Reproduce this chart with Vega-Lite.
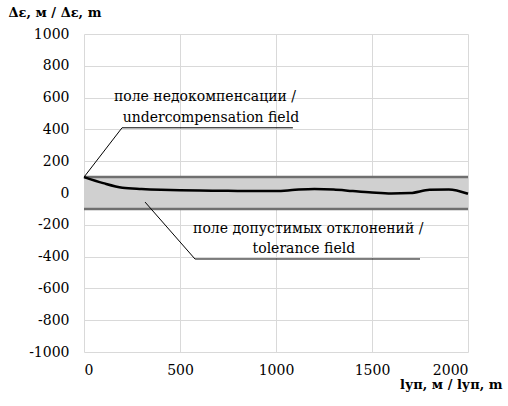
{
  "$schema": "https://vega.github.io/schema/vega-lite/v6.json",
  "width": 384,
  "height": 318,
  "autosize": {"type": "none"},
  "padding": {"left": 84, "top": 34, "right": 40, "bottom": 54},
  "background": "white",
  "config": {
    "view": {"stroke": null},
    "font": "DejaVu Serif",
    "text": {"font": "DejaVu Serif"},
    "axis": {"labelFont": "DejaVu Serif", "titleFont": "DejaVu Serif", "labelColor": "black", "titleColor": "black", "labelOverlap": false}
  },
  "datasets": {
    "curve": [
      {"x": 0, "y": 100}, {"x": 100, "y": 62}, {"x": 200, "y": 33}, {"x": 300, "y": 25},
      {"x": 400, "y": 20}, {"x": 500, "y": 17}, {"x": 600, "y": 15}, {"x": 700, "y": 14},
      {"x": 800, "y": 13}, {"x": 900, "y": 12}, {"x": 1000, "y": 12}, {"x": 1100, "y": 20},
      {"x": 1200, "y": 25}, {"x": 1300, "y": 22}, {"x": 1400, "y": 12}, {"x": 1500, "y": 3},
      {"x": 1600, "y": -3}, {"x": 1700, "y": 0}, {"x": 1800, "y": 20}, {"x": 1900, "y": 22},
      {"x": 2000, "y": -5}
    ],
    "band": [{"x": 0, "x2": 2000, "y": -100, "y2": 100}],
    "edges": [{"x": 0, "x2": 2000, "y": 100}, {"x": 0, "x2": 2000, "y": -100}],
    "leaders": [
      {"x": 0, "y": 100, "x2": 198, "y2": 410},
      {"x": 198, "y": 410, "x2": 1088, "y2": 410},
      {"x": 318, "y": -57, "x2": 578, "y2": -415},
      {"x": 578, "y": -415, "x2": 1750, "y2": -415}
    ],
    "labels": [
      {"x": 630, "y": 579, "t": "поле недокомпенсации /"},
      {"x": 661, "y": 447, "t": "undercompensation field"},
      {"x": 1168, "y": -250, "t": "поле допустимых отклонений /"},
      {"x": 1145, "y": -379, "t": "tolerance field"}
    ]
  },
  "encoding": {
    "x": {"field": "x", "type": "quantitative", "scale": {"domain": [0, 2000], "nice": false},
      "axis": {"values": [0, 500, 1000, 1500, 2000], "grid": true, "gridColor": "#d9d9d9", "domain": false, "ticks": false,
        "labelFontSize": 14, "labelPadding": 11, "labelOverlap": false, "labelExpr": "toString(datum.value)",
        "title": "lуп, м / lуп, m", "titleFontSize": 13, "titleFontWeight": "bold",
        "titleAnchor": "end", "titleAlign": "right", "titleX": 418, "titleY": 36, "titleBaseline": "alphabetic"}},
    "y": {"field": "y", "type": "quantitative", "scale": {"domain": [-1000, 1000], "nice": false},
      "axis": {"values": [-1000, -800, -600, -400, -200, 0, 200, 400, 600, 800, 1000], "grid": true, "gridColor": "#d9d9d9",
        "domain": false, "ticks": false, "labelFontSize": 14, "labelPadding": 15, "labelOverlap": false, "labelSeparation": 0,
        "labelExpr": "toString(datum.value)",
        "title": "Δε, м / Δε, m", "titleFontSize": 13, "titleFontWeight": "bold", "titleAngle": 0,
        "titleAnchor": "start", "titleAlign": "left", "titleX": -76, "titleY": -18, "titleBaseline": "alphabetic"}}
  },
  "layer": [
    {
      "data": {"name": "band"},
      "mark": {"type": "rect", "color": "#d0d0d0"},
      "encoding": {"x2": {"field": "x2"}, "y2": {"field": "y2"}}
    },
    {
      "data": {"name": "edges"},
      "mark": {"type": "rule", "color": "#6f6f6f", "strokeWidth": 2.5},
      "encoding": {"x2": {"field": "x2"}}
    },
    {
      "data": {"name": "leaders"},
      "mark": {"type": "rule", "color": "black", "strokeWidth": 1},
      "encoding": {"x2": {"field": "x2"}, "y2": {"field": "y2"}}
    },
    {
      "data": {"name": "curve"},
      "mark": {"type": "line", "color": "black", "strokeWidth": 2.5, "interpolate": "monotone"},
      "encoding": {}
    },
    {
      "data": {"name": "labels"},
      "mark": {"type": "text", "fontSize": 14, "align": "center", "baseline": "alphabetic", "color": "black", "font": "DejaVu Serif"},
      "encoding": {"text": {"field": "t"}}
    }
  ]
}
